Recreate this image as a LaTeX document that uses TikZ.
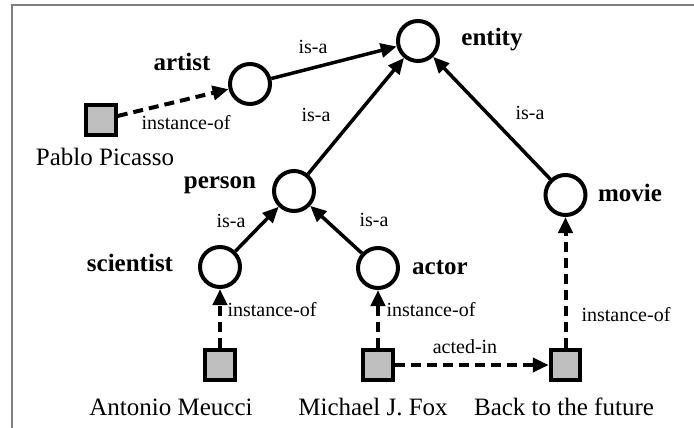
\documentclass[tikz,border=0pt]{standalone}
\usepackage{fontspec}
\setmainfont{Liberation Serif}
\usetikzlibrary{arrows.meta}

\tikzset{
  concept/.style={draw, circle, line width=4pt, minimum size=40pt, inner sep=0},
  inst/.style={draw, rectangle, line width=4pt, fill=black!25, minimum size=29.5pt, inner sep=0},
  cname/.style={font=\fontsize{25}{30}\selectfont\bfseries, inner sep=0},
  iname/.style={font=\fontsize{25}{30}\selectfont, inner sep=0},
  rel/.style={font=\fontsize{20}{24}\selectfont, inner sep=0},
  isa/.style={-{Triangle[length=16pt,width=14pt]}, line width=3.5pt},
  instof/.style={-{Triangle[length=16pt,width=14pt]}, line width=4pt, dash pattern=on 10pt off 6pt},
}

\begin{document}
\begin{tikzpicture}[x=1pt, y=-1pt]
  \useasboundingbox (0, 0) rectangle (694, 428);
  \draw[black!50, line width=2pt] (12, 430) -- (12, 5.5) -- (696, 5.5);

  % concepts
  \node[concept] (entity) at (418, 41) {};
  \node[cname] (entityL) at (492, 40) {entity};

  \node[concept] (artist) at (250, 84) {};
  \node[cname] (artistL) at (182, 62) {artist};

  \node[concept] (person) at (294, 191) {};
  \node[cname] (personL) at (220, 185) {person};

  \node[concept] (movie) at (565.5, 195) {};
  \node[cname] (movieL) at (630, 193) {movie};

  \node[concept] (scientist) at (220, 267) {};
  \node[cname] (scientistL) at (130, 263) {scientist};

  \node[concept] (actor) at (378, 268) {};
  \node[cname] (actorL) at (440, 268) {actor};

  % instances
  \node[inst] (pablo) at (101, 120) {};
  \node[iname] (pabloL) at (105, 157) {Pablo Picasso};

  \node[inst] (antonio) at (220, 365) {};
  \node[iname] (antonioL) at (171, 407) {Antonio Meucci};

  \node[inst] (michael) at (378, 365) {};
  \node[iname] (michaelL) at (373, 407) {Michael J. Fox};

  \node[inst] (back) at (565.5, 365) {};
  \node[iname] (backL) at (564, 407) {Back to the future};

  % relation labels
  \node[rel] (isa1) at (313, 47) {is-a};
  \node[rel] (isa2) at (316, 115) {is-a};
  \node[rel] (isa3) at (530, 113) {is-a};
  \node[rel] (isa4) at (231, 221) {is-a};
  \node[rel] (isa5) at (374, 220) {is-a};
  \node[rel] (inst1) at (186, 123) {instance-of};
  \node[rel] (inst2) at (272, 310) {instance-of};
  \node[rel] (inst3) at (431, 310) {instance-of};
  \node[rel] (inst4) at (626, 315) {instance-of};
  \node[rel] (acted) at (465, 347) {acted-in};

  \draw[isa]
    (artist)    edge (entity)
    (person)    edge (entity)
    (movie)     edge (entity)
    (scientist) edge (person)
    (actor)     edge (person);

  \draw[instof]
    (pablo)   edge (artist)
    (antonio) edge (scientist)
    (michael) edge (actor)
    (back)    edge (movie)
    (michael) edge (back);
\end{tikzpicture}
\end{document}
